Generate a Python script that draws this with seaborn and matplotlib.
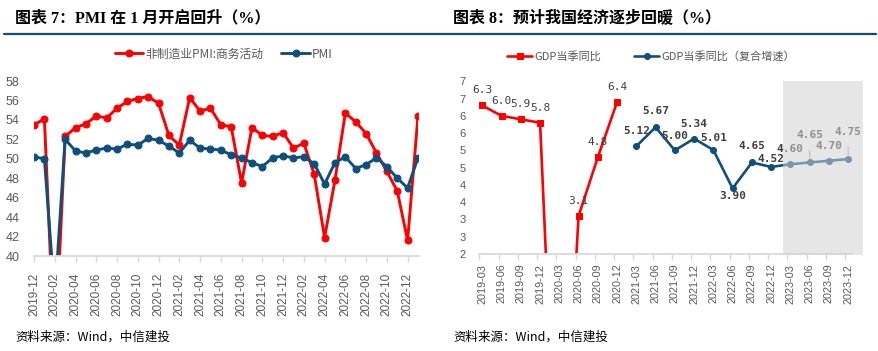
import numpy as np
import pandas as pd
import matplotlib.pyplot as plt
import seaborn as sns
from matplotlib.lines import Line2D

# --- 数据 ---
pmi_months = pd.period_range('2019-12', '2023-01', freq='M').strftime('%Y-%m').tolist()
non_mfg_pmi = [53.5, 54.1, 29.6, 52.3, 53.2, 53.6, 54.4, 54.2, 55.2, 55.9, 56.2, 56.4, 55.7,
               52.4, 51.4, 56.3, 54.9, 55.2, 53.5, 53.3, 47.5, 53.2, 52.4, 52.3, 52.7,
               51.1, 51.6, 48.4, 41.9, 47.8, 54.7, 53.8, 52.6, 50.6, 48.7, 46.7, 41.6, 54.4]
mfg_pmi = [50.2, 50.0, 35.7, 52.0, 50.8, 50.6, 50.9, 51.1, 51.0, 51.5, 51.4, 52.1, 51.9,
           51.3, 50.6, 51.9, 51.1, 51.0, 50.9, 50.4, 50.1, 49.6, 49.2, 50.1, 50.3,
           50.1, 50.2, 49.5, 47.4, 49.6, 50.2, 49.0, 49.4, 50.1, 49.2, 48.0, 47.0, 50.1]

gdp_quarters = ['2019-03', '2019-06', '2019-09', '2019-12', '2020-03', '2020-06', '2020-09', '2020-12',
                '2021-03', '2021-06', '2021-09', '2021-12', '2022-03', '2022-06', '2022-09', '2022-12',
                '2023-03', '2023-06', '2023-09', '2023-12']
gdp_yoy = [6.3, 6.0, 5.9, 5.8, -6.8, 3.1, 4.8, 6.4]
gdp_cagr = [5.12, 5.67, 5.00, 5.34, 5.01, 3.90, 4.65, 4.52, 4.60, 4.65, 4.70, 4.75]
forecast_quarters = ['2023-03', '2023-06', '2023-09', '2023-12']

# 标签偏移(像素)：正数在上方，负数在下方
yoy_dy = [15, 15, 15, 15, 15, 15, 15, 15]
cagr_dy = [15, 16, 14, 15, 12, -8, 16, 8, 15, 27, 15, 27]

RED = '#ff0000'
BLUE = '#0f4f7e'
GRAY_TXT = '#595959'
AXIS_GRAY = '#d9d9d9'

sns.set_theme(style='white')
plt.rcParams['font.family'] = ['Liberation Sans', 'Noto Sans CJK SC', 'DejaVu Sans']
plt.rcParams['axes.unicode_minus'] = False

fig = plt.figure(figsize=(8.79, 3.51), dpi=100)
ax1 = fig.add_axes([33.5 / 879, 95 / 351, 385 / 879, 175 / 351])
ax2 = fig.add_axes([479.4 / 879, 97 / 351, 372.6 / 879, 172.7 / 351])

# --- 左图：PMI ---
x1 = np.arange(len(pmi_months))
df1 = pd.DataFrame({'x': x1, 'non': non_mfg_pmi, 'mfg': mfg_pmi})
sns.lineplot(data=df1, x='x', y='non', ax=ax1, color=RED, lw=2.1, marker='o', ms=5,
             mec=RED, label='非制造业PMI:商务活动')
sns.lineplot(data=df1, x='x', y='mfg', ax=ax1, color=BLUE, lw=2.1, marker='o', ms=5,
             mec=BLUE, label='PMI')
ax1.set_xlim(-0.05, len(pmi_months) - 0.95)
ax1.set_ylim(40, 58)
ax1.set_yticks(np.arange(40, 59, 2))
ax1.set_xticks(x1[::2])
ax1.set_xticklabels(pmi_months[::2], rotation=90)
ax1.tick_params(axis='y', length=0, pad=10, labelsize=9, labelcolor=GRAY_TXT)
ax1.tick_params(axis='x', length=4, width=1, color=AXIS_GRAY, direction='out', pad=8,
                labelsize=8.5, labelcolor=GRAY_TXT, bottom=True)
ax1.set_xlabel('')
ax1.set_ylabel('')
h1, l1 = ax1.get_legend_handles_labels()
ax1.get_legend().remove()
fig.legend(h1, l1, loc='center', bbox_to_anchor=(224 / 879, 1 - 54 / 351), ncol=2,
           frameon=False, handlelength=2.4, handletextpad=0.2,
           columnspacing=1.5, labelcolor=GRAY_TXT, prop={'family': ['Noto Sans CJK SC'], 'size': 8.5})

# --- 右图：GDP ---
x2 = np.arange(len(gdp_quarters))
df_yoy = pd.DataFrame({'x': x2[:len(gdp_yoy)], 'v': gdp_yoy})
df_cagr = pd.DataFrame({'x': x2[len(gdp_quarters) - len(gdp_cagr):], 'v': gdp_cagr})
sns.lineplot(data=df_yoy, x='x', y='v', ax=ax2, color=RED, lw=1.9, marker='s', ms=4.5,
             mec=RED, label='GDP当季同比')
sns.lineplot(data=df_cagr, x='x', y='v', ax=ax2, color=BLUE, lw=1.9, marker='o', ms=4.3,
             mec=BLUE, label='GDP当季同比（复合增速）')

for xi, v, dy in zip(df_yoy['x'], gdp_yoy, yoy_dy):
    if 2 <= v <= 7:
        ax2.annotate(f'{v:.1f}', (xi, v), xytext=(0, dy * 0.72), textcoords='offset points',
                     ha='center', va='center', fontsize=8, color='#404040',
                     family=['DejaVu Sans Mono'])
for xi, v, dy in zip(df_cagr['x'], gdp_cagr, cagr_dy):
    arrow = dict(arrowstyle='-', color='#a6a6a6', lw=0.8, shrinkA=5, shrinkB=3) if dy > 20 else None
    ax2.annotate(f'{v:.2f}', (xi, v), xytext=(0, dy * 0.72), textcoords='offset points',
                 ha='center', va='center', fontsize=8, color='#404040', fontweight='bold',
                 family=['DejaVu Sans Mono'], arrowprops=arrow)

# 预测区阴影
first_fc = gdp_quarters.index(forecast_quarters[0])
ax2.axvspan(first_fc - 0.4, len(gdp_quarters) - 0.25, ymin=-0.005, ymax=1, color='#d2d2d2',
            alpha=0.55, lw=0, zorder=10, clip_on=False)

ax2.set_xlim(-0.15, len(gdp_quarters) - 0.8)
ax2.set_ylim(2, 7)
yt = np.arange(2, 7.01, 0.5)
ax2.set_yticks(yt)
ax2.set_yticklabels([str(int(np.floor(t + 0.5))) for t in yt])
ax2.set_xticks(x2)
ax2.set_xticklabels(gdp_quarters, rotation=90)
ax2.set_xticks(x2 - 0.15, minor=True)
ax2.tick_params(axis='y', length=0, pad=10, labelsize=8, labelcolor=GRAY_TXT)
ax2.tick_params(axis='x', which='major', length=0, pad=7, labelsize=7.8, labelcolor=GRAY_TXT)
ax2.tick_params(axis='x', which='minor', length=4, width=1, color=AXIS_GRAY, direction='out', bottom=True)
ax2.set_xlabel('')
ax2.set_ylabel('')
h2, l2 = ax2.get_legend_handles_labels()
ax2.get_legend().remove()
fig.legend(h2, l2, loc='center', bbox_to_anchor=(651 / 879, 1 - 56 / 351), ncol=2,
           frameon=False, handlelength=2.2, handletextpad=0.2, columnspacing=3,
           labelcolor=GRAY_TXT, prop={'family': ['Noto Sans CJK SC'], 'size': 8})

for ax in (ax1, ax2):
    for s in ('left', 'right', 'top'):
        ax.spines[s].set_visible(False)
    ax.spines['bottom'].set_color(AXIS_GRAY)
    ax.spines['bottom'].set_linewidth(1.3)

# --- 标题、分隔线、资料来源 ---
title_font = ['Liberation Serif', 'Noto Sans CJK SC']
fig.text(15 / 879, 1 - 18 / 351, '图表 7：PMI 在 1 月开启回升（%）', ha='left', va='center',
         fontsize=11.5, fontweight='bold', family=title_font, color='black')
fig.text(453 / 879, 1 - 18 / 351, '图表 8：预计我国经济逐步回暖（%）', ha='left', va='center',
         fontsize=11.5, fontweight='bold', family=title_font, color='black')
fig.add_artist(Line2D([4 / 879, 876 / 879], [1 - 34 / 351, 1 - 34 / 351], color='#0c4d7d', lw=1.6))
fig.text(15 / 879, 1 - 337 / 351, '资料来源：Wind，中信建投', ha='left', va='center',
         fontsize=9, style='italic', family=['Noto Sans CJK SC'], color='black')
fig.text(453 / 879, 1 - 337 / 351, '资料来源：Wind，中信建投', ha='left', va='center',
         fontsize=9, style='italic', family=['Noto Sans CJK SC'], color='black')

fig.savefig('out.png', dpi=100)
